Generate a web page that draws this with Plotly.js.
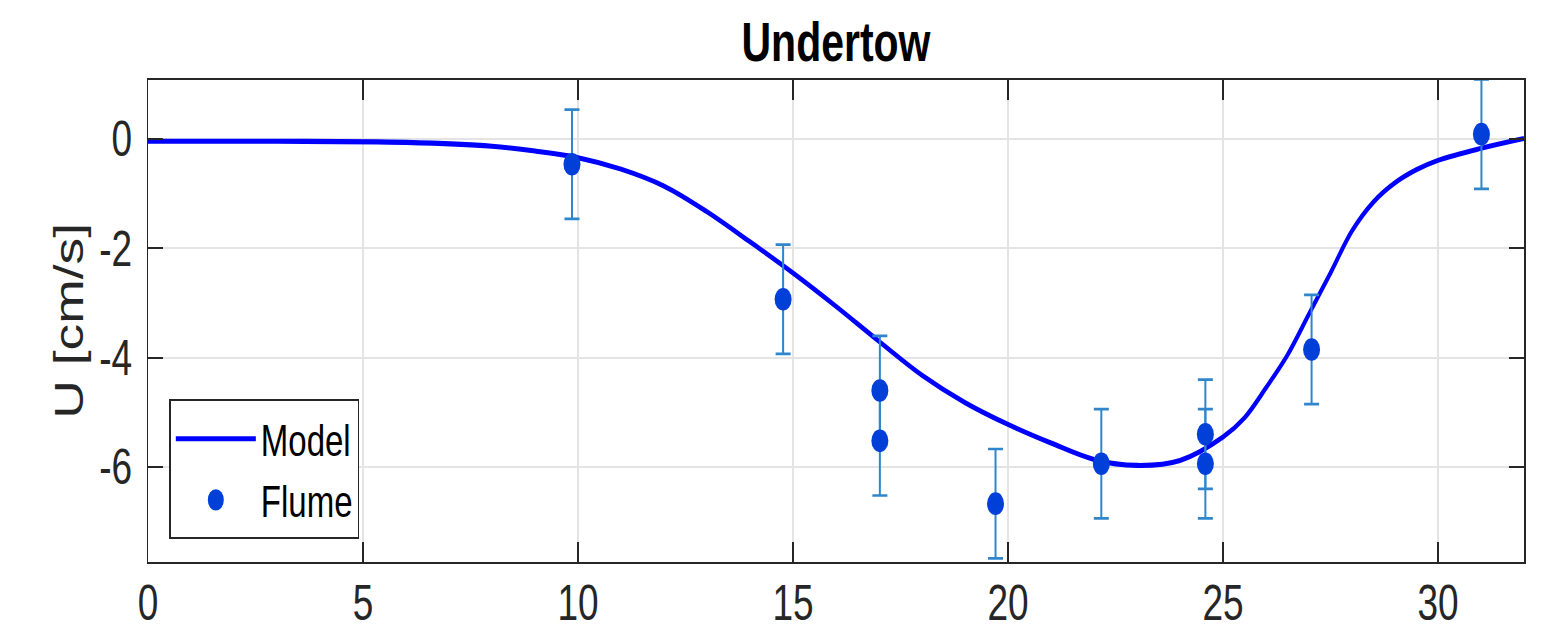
<!DOCTYPE html>
<html>
<head>
<meta charset="utf-8">
<script src="https://cdn.plot.ly/plotly-3.0.1.min.js"></script>
<style>
  html, body { margin: 0; padding: 0; background: #ffffff; overflow: hidden; width: 1542px; height: 635px; }
  /* the figure is laid out at a shorter height and stretched vertically */
  #chart { width: 1542px; height: 476px; transform: scaleY(1.334); transform-origin: 0 0; }
</style>
</head>
<body>
<div id="chart"></div>
<script>
// Model undertow profile along the flume
const modelX = [0, 3, 6, 8, 9, 10, 11, 12, 13, 14, 15, 16, 17, 18, 19, 20, 21, 22, 23, 24, 25, 25.5, 26,
                26.5, 27, 27.5, 28, 28.5, 29, 29.5, 30, 31, 32];
const modelU = [-0.04, -0.04, -0.06, -0.13, -0.22, -0.34, -0.55, -0.86, -1.33, -1.88, -2.45, -3.06, -3.7, -4.32, -4.82, -5.22, -5.56, -5.86, -5.97, -5.88, -5.45, -5.1, -4.55,
                -3.95, -3.2, -2.45, -1.68, -1.15, -0.8, -0.56, -0.39, -0.17, 0.01];

// Flume measurements with their error bars
const flumeX   = [9.86, 14.77, 17.02, 17.02, 19.71, 22.17, 24.59, 24.59, 27.06, 31.01];
const flumeU   = [-0.46, -2.93, -4.6, -5.52, -6.67, -5.94, -5.4, -5.94, -3.85, 0.09];
const flumeErr = [1.0, 1.0, 1.0, 1.0, 1.0, 1.0, 1.0, 1.0, 1.0, 1.0];

const xTicks = [0, 5, 10, 15, 20, 25, 30];
const xTickText = ['0', '5', '10', '15', '20', '25', '30'];
const yTicks = [-6, -4, -2, 0];
const yTickText = ['-6', '-4', '-2', '0'];

const axisColor = '#262626';
const fontFam = '"Liberation Sans", Arial, Helvetica, sans-serif';

const traces = [
  {
    x: modelX, y: modelU, name: 'Model', type: 'scatter', mode: 'lines',
    line: { color: '#0000ff', width: 3.8, shape: 'spline', smoothing: 1 }
  },
  {
    x: flumeX, y: flumeU, name: 'Flume', type: 'scatter', mode: 'markers',
    marker: { color: '#0040d8', size: 17 },
    error_y: { type: 'data', array: flumeErr, visible: true, color: '#2f86cc', thickness: 2, width: 7.5 }
  }
];

const baseAxis = {
  showline: true, linecolor: axisColor, linewidth: 1.5, mirror: 'allticks',
  ticks: 'inside', ticklen: 15, tickwidth: 1.5, tickcolor: axisColor,
  showgrid: true, gridcolor: '#e4e4e4', gridwidth: 1.5, zeroline: false,
  tickfont: { family: fontFam, size: 37, color: axisColor }
};

const layout = {
  width: 1542, height: 476,
  margin: { l: 148, r: 18, t: 60, b: 55 },
  paper_bgcolor: '#ffffff', plot_bgcolor: '#ffffff',
  title: {
    text: '<b>Undertow</b>',
    font: { family: fontFam, size: 41, color: '#000000' },
    x: 0.5, xref: 'paper', xanchor: 'center',
    y: 0.934, yref: 'container', yanchor: 'middle'
  },
  xaxis: Object.assign({}, baseAxis, {
    range: [0, 32], tickvals: xTicks, ticktext: xTickText, ticklabelstandoff: -2
  }),
  yaxis: Object.assign({}, baseAxis, {
    range: [-7.73, 1.08], tickvals: yTicks, ticktext: yTickText, ticklabelstandoff: 7,
    title: { text: 'U [cm/s]', font: { family: fontFam, size: 40, color: axisColor }, standoff: 3 }
  }),
  showlegend: true,
  legend: {
    x: 0.0155, y: 0.046, xanchor: 'left', yanchor: 'bottom',
    bgcolor: '#ffffff', bordercolor: axisColor, borderwidth: 1.5,
    font: { family: fontFam, size: 33, color: '#000000' },
    itemwidth: 80, tracegroupgap: 0
  }
};

Plotly.newPlot('chart', traces, layout, { staticPlot: true, displayModeBar: false });
</script>
</body>
</html>
